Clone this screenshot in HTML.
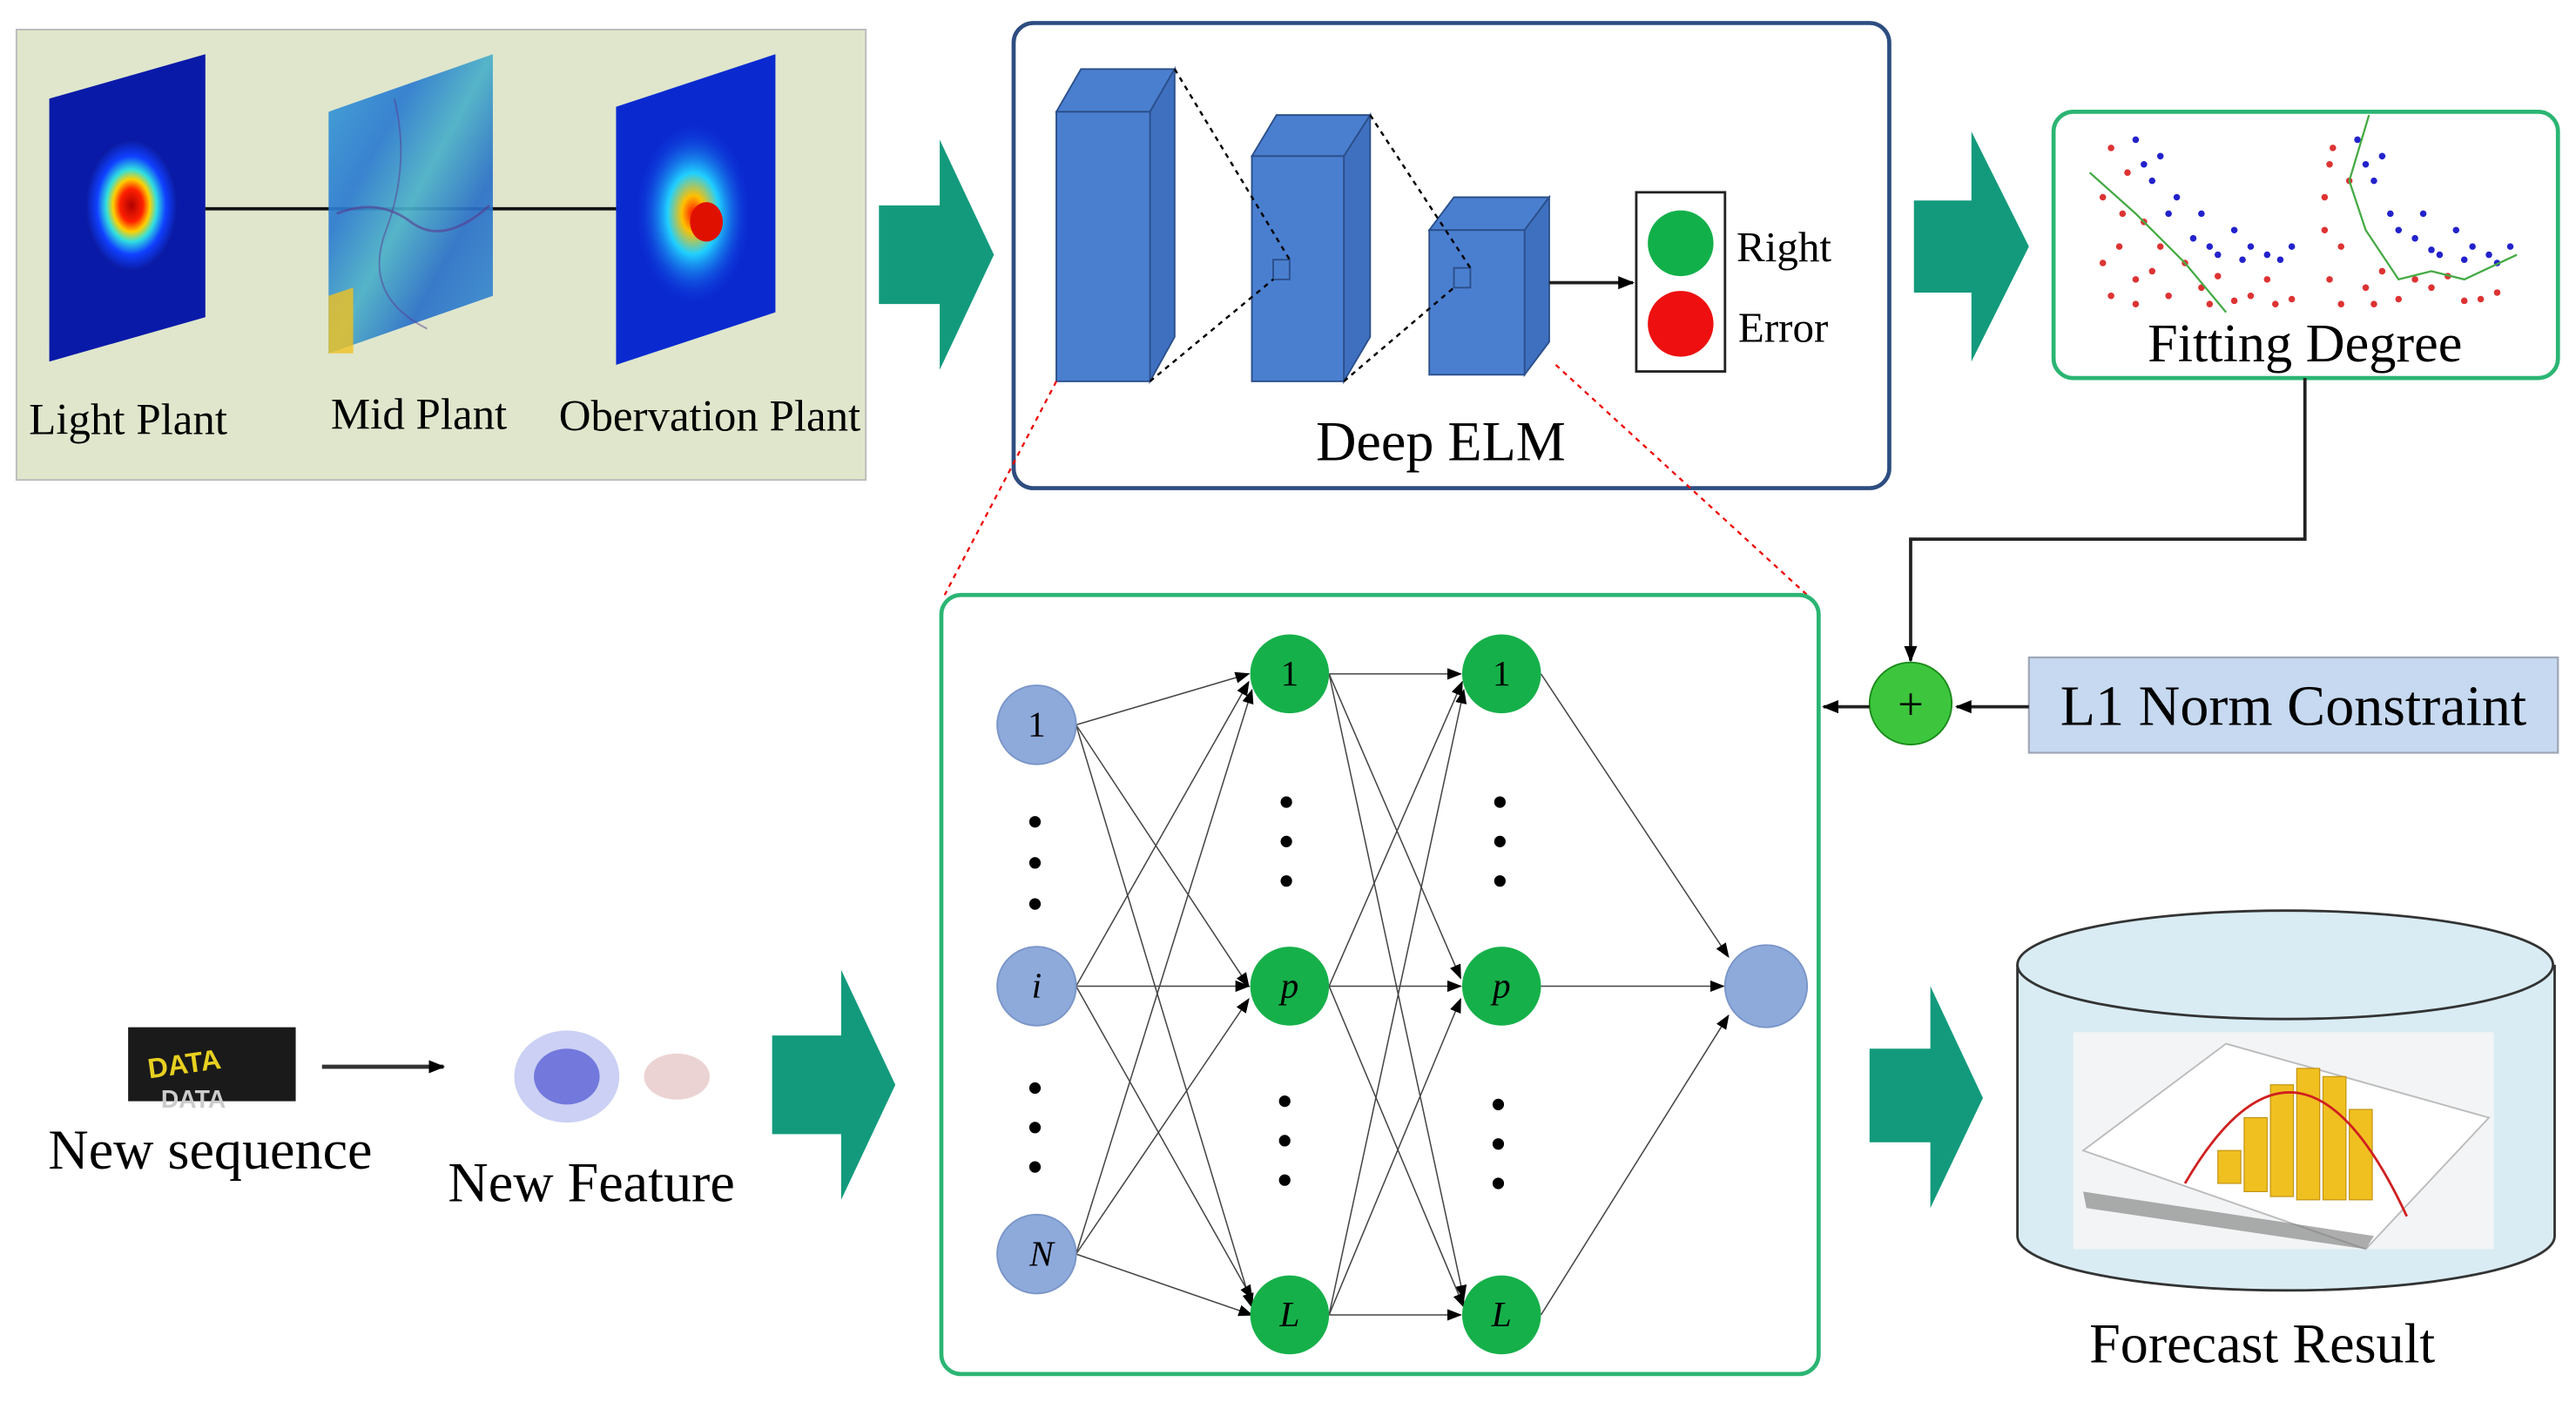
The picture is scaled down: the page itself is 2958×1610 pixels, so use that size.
<!DOCTYPE html>
<html><head><meta charset="utf-8"><style>html,body{margin:0;padding:0;background:#fff;}svg{display:block;}</style></head>
<body>
<svg width="2958" height="1610" viewBox="0 0 1568 853" preserveAspectRatio="none" xmlns="http://www.w3.org/2000/svg" font-family="Liberation Serif, serif">
<defs>
<marker id="ah" markerWidth="10" markerHeight="8" refX="9" refY="4" orient="auto" markerUnits="userSpaceOnUse"><path d="M0,0 L10,4 L0,8 Z" fill="#000"/></marker>
<marker id="ahs" markerWidth="9" markerHeight="7" refX="8" refY="3.5" orient="auto" markerUnits="userSpaceOnUse"><path d="M0,0 L9,3.5 L0,7 Z" fill="#000"/></marker>
<radialGradient id="g1" cx="0.5" cy="0.5" r="0.5"><stop offset="0" stop-color="#b00000"/><stop offset="0.25" stop-color="#ff2000"/><stop offset="0.4" stop-color="#ffd000"/><stop offset="0.55" stop-color="#30e0e0"/><stop offset="0.75" stop-color="#1040ff"/><stop offset="1" stop-color="#0a1aa0"/></radialGradient>
<linearGradient id="g2" x1="0" y1="0" x2="1" y2="1"><stop offset="0" stop-color="#3aa0d8"/><stop offset="0.3" stop-color="#2b7ad0"/><stop offset="0.5" stop-color="#4ab0c8"/><stop offset="0.7" stop-color="#2a70c8"/><stop offset="1" stop-color="#3a90d0"/></linearGradient>
<radialGradient id="g3" cx="0.5" cy="0.5" r="0.5"><stop offset="0" stop-color="#ff1000"/><stop offset="0.2" stop-color="#ffc000"/><stop offset="0.45" stop-color="#20d0ff"/><stop offset="1" stop-color="#1030e0" stop-opacity="0"/></radialGradient>
</defs>

<rect x="10" y="18" width="517" height="274" fill="#dfe6cc" stroke="#bbb" stroke-width="1"/>
<polygon points="30,60 125,33 125,193 30,220" fill="#0a1aa8"/>
<ellipse cx="80" cy="125" rx="28" ry="40" fill="url(#g1)"/>
<line x1="125" y1="127" x2="375" y2="127" stroke="#111" stroke-width="2"/>
<polygon points="200,68 300,33 300,180 200,215" fill="url(#g2)" opacity="0.92"/>
<path d="M205,130 Q230,120 250,135 T298,125" fill="none" stroke="#5a3a90" stroke-width="1.5" opacity="0.6"/>
<path d="M240,60 Q250,100 235,140 T260,200" fill="none" stroke="#5a3a90" stroke-width="1" opacity="0.5"/>
<polygon points="200,180 215,175 215,215 200,215" fill="#f0c020" opacity="0.8"/>
<polygon points="375,65 472,33 472,190 375,222" fill="#0a2ad0"/>
<ellipse cx="422" cy="130" rx="35" ry="55" fill="url(#g3)"/>
<ellipse cx="430" cy="135" rx="10" ry="12" fill="#e01000"/>
<text x="78" y="264" font-size="27" text-anchor="middle">Light Plant</text>
<text x="255" y="261" font-size="27" text-anchor="middle">Mid Plant</text>
<text x="432" y="262" font-size="27" text-anchor="middle">Obervation Plant</text>

<g fill="#139a7c">
<polygon points="535,125 572,125 572,85 605,155 572,225 572,185 535,185"/>
<polygon points="1165,122 1200,122 1200,80 1235,150 1200,220 1200,178 1165,178"/>
<polygon points="470,630 512,630 512,590 545,660 512,730 512,690 470,690"/>
<polygon points="1138,638 1175,638 1175,600 1207,668 1175,735 1175,695 1138,695"/>
</g>

<rect x="617" y="14" width="533" height="283" rx="12" fill="#fff" stroke="#2d4d80" stroke-width="2.5"/>
<g stroke="#2b4f8a" stroke-width="1" fill="#4a7fd0">
<polygon points="643,68 658,42 715,42 700,68"/><polygon points="700,68 715,42 715,205 700,232" fill="#3f70c0"/><rect x="643" y="68" width="57" height="164"/>
<polygon points="762,95 777,70 834,70 818,95"/><polygon points="818,95 834,70 834,205 818,232" fill="#3f70c0"/><rect x="762" y="95" width="56" height="137"/>
<polygon points="870,140 885,120 943,120 928,140"/><polygon points="928,140 943,120 943,208 928,228" fill="#3f70c0"/><rect x="870" y="140" width="58" height="88"/>
<rect x="775" y="158" width="10" height="12" fill="none"/>
<rect x="885" y="163" width="10" height="12" fill="none"/>
</g>
<g stroke="#000" stroke-width="1.3" stroke-dasharray="3,3" fill="none">
<line x1="715" y1="42" x2="785" y2="158"/><line x1="700" y1="232" x2="775" y2="170"/>
<line x1="834" y1="70" x2="895" y2="163"/><line x1="818" y1="232" x2="885" y2="175"/>
</g>
<line x1="943" y1="172" x2="994" y2="172" stroke="#222" stroke-width="2" marker-end="url(#ah)"/>
<rect x="996" y="117" width="54" height="109" fill="#fff" stroke="#222" stroke-width="1.5"/>
<circle cx="1023" cy="148" r="20" fill="#12b04a"/>
<circle cx="1023" cy="197" r="20" fill="#ee1010"/>
<text x="1057" y="159" font-size="26">Right</text>
<text x="1058" y="208" font-size="26">Error</text>
<text x="877" y="280" font-size="34" text-anchor="middle">Deep ELM</text>

<g stroke="#e00" stroke-width="1.2" stroke-dasharray="3,3"><line x1="643" y1="232" x2="575" y2="362"/><line x1="947" y1="222" x2="1100" y2="362"/></g>

<rect x="1250" y="68" width="307" height="162" rx="12" fill="#fff" stroke="#2bb573" stroke-width="2.5"/>
<g fill="#d33">
<circle cx="1285" cy="90" r="2"/><circle cx="1280" cy="120" r="2"/><circle cx="1290" cy="150" r="2"/><circle cx="1300" cy="170" r="2"/><circle cx="1320" cy="180" r="2"/><circle cx="1340" cy="175" r="2"/><circle cx="1360" cy="183" r="2"/><circle cx="1380" cy="170" r="2"/><circle cx="1395" cy="182" r="2"/><circle cx="1285" cy="180" r="2"/><circle cx="1305" cy="135" r="2"/><circle cx="1295" cy="105" r="2"/><circle cx="1310" cy="165" r="2"/><circle cx="1330" cy="160" r="2"/><circle cx="1350" cy="168" r="2"/><circle cx="1370" cy="180" r="2"/>
<circle cx="1280" cy="160" r="2"/><circle cx="1292" cy="130" r="2"/><circle cx="1300" cy="185" r="2"/><circle cx="1315" cy="150" r="2"/><circle cx="1345" cy="185" r="2"/><circle cx="1385" cy="185" r="2"/>
<circle cx="1420" cy="90" r="2"/><circle cx="1415" cy="120" r="2"/><circle cx="1425" cy="150" r="2"/><circle cx="1440" cy="175" r="2"/><circle cx="1460" cy="182" r="2"/><circle cx="1480" cy="175" r="2"/><circle cx="1500" cy="183" r="2"/><circle cx="1520" cy="178" r="2"/><circle cx="1418" cy="170" r="2"/><circle cx="1430" cy="110" r="2"/><circle cx="1450" cy="165" r="2"/><circle cx="1470" cy="170" r="2"/><circle cx="1490" cy="168" r="2"/><circle cx="1510" cy="182" r="2"/>
<circle cx="1415" cy="140" r="2"/><circle cx="1425" cy="185" r="2"/><circle cx="1445" cy="185" r="2"/><circle cx="1418" cy="100" r="2"/>
</g>
<g fill="#22c">
<circle cx="1300" cy="85" r="2"/><circle cx="1310" cy="110" r="2"/><circle cx="1320" cy="130" r="2"/><circle cx="1335" cy="145" r="2"/><circle cx="1350" cy="155" r="2"/><circle cx="1365" cy="158" r="2"/><circle cx="1380" cy="155" r="2"/><circle cx="1395" cy="150" r="2"/><circle cx="1340" cy="130" r="2"/><circle cx="1360" cy="140" r="2"/><circle cx="1315" cy="95" r="2"/>
<circle cx="1305" cy="100" r="2"/><circle cx="1325" cy="120" r="2"/><circle cx="1345" cy="150" r="2"/><circle cx="1370" cy="150" r="2"/><circle cx="1388" cy="158" r="2"/>
<circle cx="1435" cy="85" r="2"/><circle cx="1445" cy="110" r="2"/><circle cx="1455" cy="130" r="2"/><circle cx="1470" cy="145" r="2"/><circle cx="1485" cy="155" r="2"/><circle cx="1500" cy="158" r="2"/><circle cx="1515" cy="155" r="2"/><circle cx="1528" cy="150" r="2"/><circle cx="1475" cy="130" r="2"/><circle cx="1495" cy="140" r="2"/><circle cx="1450" cy="95" r="2"/>
<circle cx="1440" cy="100" r="2"/><circle cx="1460" cy="140" r="2"/><circle cx="1480" cy="152" r="2"/><circle cx="1505" cy="150" r="2"/><circle cx="1520" cy="160" r="2"/>
</g>
<polyline points="1272,105 1300,130 1330,160 1355,190" fill="none" stroke="#4a4" stroke-width="1.2"/>
<polyline points="1442,70 1430,110 1440,140 1460,170 1480,165 1500,170 1532,155" fill="none" stroke="#4a4" stroke-width="1.2"/>
<text x="1403" y="220" font-size="33" text-anchor="middle">Fitting Degree</text>

<polyline points="1403,230 1403,328 1163,328 1163,402" fill="none" stroke="#222" stroke-width="2" marker-end="url(#ah)"/>
<circle cx="1163" cy="428" r="25" fill="#3dc63d" stroke="#1a8a1a" stroke-width="1"/>
<text x="1163" y="438" font-size="28" text-anchor="middle">+</text>
<rect x="1235" y="400" width="322" height="58" fill="#c6d9f0" stroke="#a0a8b8" stroke-width="1.2"/>
<text x="1396" y="441" font-size="35" text-anchor="middle">L1 Norm Constraint</text>
<line x1="1235" y1="430" x2="1191" y2="430" stroke="#222" stroke-width="2" marker-end="url(#ah)"/>
<line x1="1138" y1="430" x2="1110" y2="430" stroke="#222" stroke-width="2" marker-end="url(#ah)"/>

<rect x="573" y="362" width="534" height="474" rx="12" fill="#fff" stroke="#2bb573" stroke-width="2.5"/>
<g stroke="#444" stroke-width="0.8" marker-end="url(#ahs)">
<line x1="655" y1="441" x2="760" y2="410"/><line x1="655" y1="441" x2="760" y2="600"/><line x1="655" y1="441" x2="762" y2="795"/>
<line x1="655" y1="600" x2="760" y2="415"/><line x1="655" y1="600" x2="760" y2="600"/><line x1="655" y1="600" x2="762" y2="790"/>
<line x1="655" y1="763" x2="762" y2="420"/><line x1="655" y1="763" x2="760" y2="608"/><line x1="655" y1="763" x2="762" y2="800"/>
<line x1="809" y1="410" x2="889" y2="410"/><line x1="809" y1="410" x2="889" y2="595"/><line x1="809" y1="410" x2="891" y2="790"/>
<line x1="809" y1="600" x2="890" y2="415"/><line x1="809" y1="600" x2="889" y2="600"/><line x1="809" y1="600" x2="891" y2="795"/>
<line x1="809" y1="800" x2="891" y2="420"/><line x1="809" y1="800" x2="889" y2="608"/><line x1="809" y1="800" x2="889" y2="800"/>
<line x1="938" y1="410" x2="1052" y2="582"/><line x1="938" y1="600" x2="1049" y2="600"/><line x1="938" y1="800" x2="1052" y2="618"/>
</g>
<g fill="#8eaadb" stroke="#7a95c8"><circle cx="631" cy="441" r="24"/><circle cx="631" cy="600" r="24"/><circle cx="631" cy="763" r="24"/><circle cx="1075" cy="600" r="25"/></g>
<g fill="#16b04a"><circle cx="785" cy="410" r="24"/><circle cx="785" cy="600" r="24"/><circle cx="785" cy="800" r="24"/><circle cx="914" cy="410" r="24"/><circle cx="914" cy="600" r="24"/><circle cx="914" cy="800" r="24"/></g>
<g font-size="22" font-style="italic" text-anchor="middle">
<text x="631" y="448" font-style="normal">1</text><text x="631" y="607">i</text><text x="634" y="770">N</text>
<text x="785" y="417" font-style="normal">1</text><text x="785" y="607">p</text><text x="785" y="807">L</text>
<text x="914" y="417" font-style="normal">1</text><text x="914" y="607">p</text><text x="914" y="807">L</text>
</g>
<g fill="#000">
<circle cx="630" cy="500" r="3.5"/><circle cx="630" cy="525" r="3.5"/><circle cx="630" cy="550" r="3.5"/>
<circle cx="630" cy="662" r="3.5"/><circle cx="630" cy="686" r="3.5"/><circle cx="630" cy="710" r="3.5"/>
<circle cx="783" cy="488" r="3.5"/><circle cx="783" cy="512" r="3.5"/><circle cx="783" cy="536" r="3.5"/>
<circle cx="782" cy="670" r="3.5"/><circle cx="782" cy="694" r="3.5"/><circle cx="782" cy="718" r="3.5"/>
<circle cx="913" cy="488" r="3.5"/><circle cx="913" cy="512" r="3.5"/><circle cx="913" cy="536" r="3.5"/>
<circle cx="912" cy="672" r="3.5"/><circle cx="912" cy="696" r="3.5"/><circle cx="912" cy="720" r="3.5"/>
</g>

<rect x="78" y="625" width="102" height="45" fill="#1a1a1a"/>
<text x="90" y="652" font-size="17" fill="#e8d020" font-family="Liberation Sans, sans-serif" font-weight="bold" transform="rotate(-8 120 648)">DATA</text>
<text x="98" y="674" font-size="15" fill="#ccc" font-family="Liberation Sans, sans-serif" font-weight="bold">DATA</text>
<line x1="196" y1="649" x2="270" y2="649" stroke="#333" stroke-width="2.5" marker-end="url(#ah)"/>
<ellipse cx="345" cy="655" rx="32" ry="28" fill="#6a78e0" opacity="0.35"/>
<ellipse cx="345" cy="655" rx="20" ry="17" fill="#2a30c8" opacity="0.55"/>
<ellipse cx="412" cy="655" rx="20" ry="14" fill="#c88080" opacity="0.35"/>
<text x="128" y="711" font-size="34" text-anchor="middle">New sequence</text>
<text x="360" y="731" font-size="34" text-anchor="middle">New Feature</text>

<path d="M1228,587 L1228,752 A163,33 0 0 0 1555,752 L1555,587" fill="#d9ecf4" stroke="#333" stroke-width="1.5"/>
<ellipse cx="1391" cy="587" rx="163" ry="33" fill="#d9ecf4" stroke="#333" stroke-width="1.5"/>
<rect x="1262" y="628" width="256" height="132" fill="#f2f4f6"/>
<polygon points="1268,700 1355,635 1515,680 1440,760" fill="#fff" stroke="#bbb"/>
<polygon points="1270,735 1440,760 1445,752 1268,725" fill="#777" opacity="0.6"/>
<g fill="#f0c020" stroke="#c09010" stroke-width="0.6">
<rect x="1350" y="700" width="14" height="20"/><rect x="1366" y="680" width="14" height="45"/><rect x="1382" y="660" width="14" height="68"/><rect x="1398" y="650" width="14" height="80"/><rect x="1414" y="655" width="14" height="75"/><rect x="1430" y="675" width="14" height="55"/>
</g>
<path d="M1330,720 Q1400,600 1465,740" fill="none" stroke="#d02020" stroke-width="1.5"/>
<text x="1377" y="829" font-size="34" text-anchor="middle">Forecast Result</text>
</svg>
</body></html>
